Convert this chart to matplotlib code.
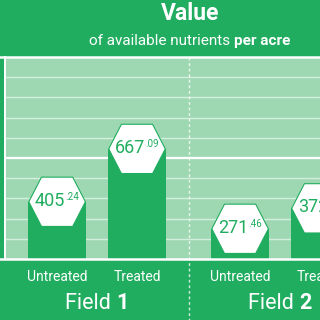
import numpy as np
import matplotlib
matplotlib.use("Agg")
import matplotlib.pyplot as plt
from matplotlib.patches import Polygon
from matplotlib.offsetbox import TextArea, HPacker, AnnotationBbox

GREEN = "#20ad5f"
LIGHT = "#9ed8b2"

fields = ["1", "2"]
treatments = ["Untreated", "Treated"]
values = [405.24, 667.09, 271.46, 372.81]
positions = [0, 1, 2.29, 3.29]
labels = ["Untreated", "Treated", "Untreated", "Treated"]

plt.rcParams['font.family'] = ['Roboto', 'DejaVu Sans']

fig = plt.figure(figsize=(3.2, 3.2), dpi=100, facecolor=GREEN)
ax = fig.add_axes([5 / 320, 1 - 259 / 320, 315 / 320, 202 / 320])
ax.set_facecolor(LIGHT)
ax.set_xlim(-0.652, 3.261)
ax.set_ylim(0, 1000)

# grid
for g in range(100, 1000, 100):
    if g == 500:
        ax.axhline(g, color="white", lw=1.6, zorder=1)
    else:
        ax.axhline(g, color="#d4eedd", lw=1.0, zorder=1)
ax.axhline(1000, xmin=-0.02, color="white", lw=1.8, clip_on=False, zorder=1)
ax.axhline(0, xmin=-0.02, xmax=1, color="white", lw=1.8, clip_on=False, zorder=5)

for s in ["top", "right", "bottom"]:
    ax.spines[s].set_visible(False)
ax.spines["left"].set_color("white")
ax.spines["left"].set_linewidth(1.4)

# field separator
sep = (positions[1] + positions[2]) / 2
ax.axvline(sep, ymin=-0.31, ymax=1, color="white", lw=1, ls=(0, (2, 2)),
           alpha=0.8, clip_on=False, zorder=2)

# bars with hexagon caps
hh = 122      # half hexagon height, data units
hw = 0.354    # half width
tw = 0.195    # half width of flat top
bw = 0.733
tops = np.array(values) - hh
ax.bar(positions, tops, width=bw, color=GREEN, zorder=3)

for x, v in zip(positions, values):
    c = v - hh
    hexv = [(x - tw, c + hh), (x + tw, c + hh), (x + hw, c),
            (x + tw, c - hh), (x - tw, c - hh), (x - hw, c)]
    ax.add_patch(Polygon(hexv, closed=True, facecolor="white",
                         edgecolor=GREEN, lw=0.8, zorder=4))
    ip, dp = f"{v:.2f}".split(".")
    box = HPacker(children=[
        TextArea(ip, textprops=dict(color=GREEN, fontsize=13)),
        TextArea("." + dp, textprops=dict(color=GREEN, fontsize=7)),
    ], align="top", pad=0, sep=0)
    ab = AnnotationBbox(box, (x, c), frameon=False, box_alignment=(0.5, 0.45),
                        zorder=6, annotation_clip=True)
    ax.add_artist(ab)

ax.set_yticks([])
ax.set_xticks(positions, labels)
ax.tick_params(axis="x", length=0, pad=8, colors="white", labelsize=10)

# field labels
for i, f in enumerate(fields):
    cx = (positions[2 * i] + positions[2 * i + 1]) / 2
    box = HPacker(children=[
        TextArea("Field ", textprops=dict(color="white", fontsize=15.5)),
        TextArea(f, textprops=dict(color="white", fontsize=15.5, fontweight="bold")),
    ], align="baseline", pad=0, sep=0)
    ab = AnnotationBbox(box, (cx, 0), xycoords=("data", "axes fraction"),
                        xybox=(0, -32), boxcoords="offset points",
                        frameon=False, box_alignment=(0.5, 0.5),
                        annotation_clip=False)
    ax.add_artist(ab)

# title
fig.text(190 / 320, 1 - 14 / 320, "Value", color="white", fontsize=16.5,
         fontweight="bold", ha="center", va="center")
sub = HPacker(children=[
    TextArea("of available nutrients ", textprops=dict(color="white", fontsize=11)),
    TextArea("per acre", textprops=dict(color="white", fontsize=11, fontweight="bold")),
], align="baseline", pad=0, sep=0)
fig.add_artist(AnnotationBbox(sub, (190 / 320, 1 - 41 / 320), xycoords="figure fraction",
                              frameon=False, box_alignment=(0.5, 0.5)))

fig.savefig("out.png", dpi=100, facecolor=GREEN)
